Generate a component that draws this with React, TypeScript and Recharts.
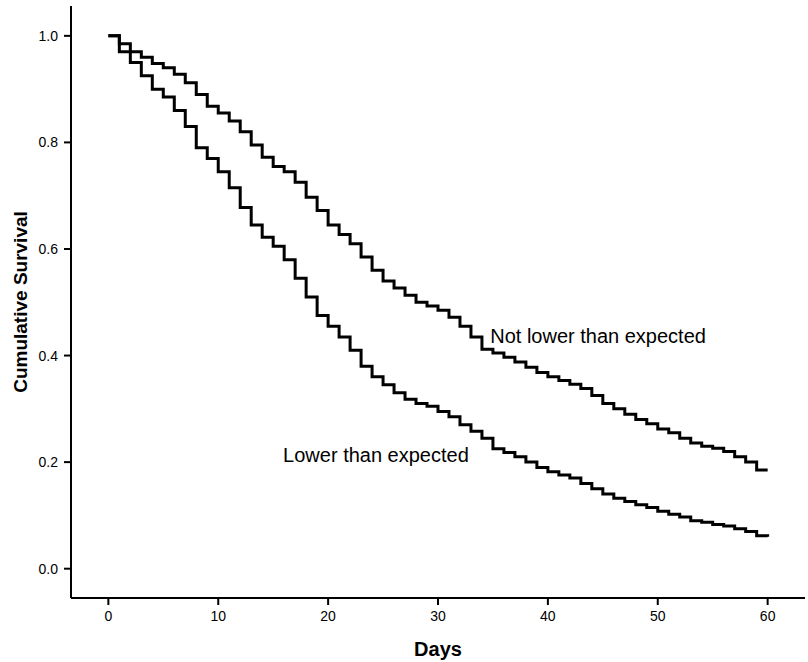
import React from "react"
import { LineChart, Line, XAxis, YAxis, ReferenceDot } from "recharts"

// days of follow-up (one step per day)
const DAYS = [
  0, 1, 2, 3, 4, 5, 6, 7, 8, 9, 10, 11, 12, 13, 14, 15, 16, 17, 18, 19, 20,
  21, 22, 23, 24, 25, 26, 27, 28, 29, 30, 31, 32, 33, 34, 35, 36, 37, 38, 39, 40,
  41, 42, 43, 44, 45, 46, 47, 48, 49, 50, 51, 52, 53, 54, 55, 56, 57, 58, 59, 60,
]

const NOT_LOWER = [
  1.0, 0.985, 0.97, 0.96, 0.948, 0.94, 0.928, 0.912, 0.89, 0.868, 0.855,
  0.84, 0.82, 0.795, 0.772, 0.755, 0.745, 0.725, 0.697, 0.672, 0.645,
  0.627, 0.61, 0.585, 0.56, 0.54, 0.527, 0.513, 0.5, 0.493, 0.485,
  0.472, 0.455, 0.435, 0.412, 0.405, 0.397, 0.388, 0.378, 0.368, 0.36,
  0.353, 0.346, 0.338, 0.325, 0.31, 0.3, 0.29, 0.28, 0.272, 0.262,
  0.255, 0.245, 0.236, 0.23, 0.226, 0.22, 0.21, 0.2, 0.185, 0.185,
]

const LOWER = [
  1.0, 0.97, 0.95, 0.925, 0.9, 0.885, 0.86, 0.83, 0.79, 0.77, 0.745,
  0.715, 0.678, 0.645, 0.622, 0.605, 0.58, 0.545, 0.51, 0.475, 0.455,
  0.435, 0.41, 0.38, 0.36, 0.345, 0.33, 0.318, 0.31, 0.305, 0.295,
  0.285, 0.27, 0.258, 0.245, 0.225, 0.218, 0.21, 0.2, 0.19, 0.182,
  0.176, 0.17, 0.16, 0.15, 0.14, 0.132, 0.126, 0.12, 0.115, 0.108,
  0.102, 0.097, 0.09, 0.087, 0.083, 0.08, 0.075, 0.07, 0.062, 0.06,
]

const X_TICKS = [0, 10, 20, 30, 40, 50, 60]
const Y_TICKS = [0, 0.2, 0.4, 0.6, 0.8, 1.0]

const FONT = "'Liberation Sans', Arial, sans-serif"

const data = DAYS.map((d, i) => ({ day: d, notLower: NOT_LOWER[i], lower: LOWER[i] }))

export default function App() {
  return (
    <div style={{ position: "absolute", left: 0, top: 0, background: "#fff" }}>
      <LineChart
        width={808}
        height={662}
        data={data}
        margin={{ top: 6, right: 3, bottom: 0, left: 0 }}
        style={{ fontFamily: FONT }}
      >
        <XAxis
          dataKey="day"
          type="number"
          domain={[-3.4, 63.4]}
          ticks={X_TICKS}
          allowDataOverflow
          height={64}
          tickSize={7}
          tickMargin={6}
          axisLine={{ stroke: "#000", strokeWidth: 2 }}
          tickLine={{ stroke: "#000", strokeWidth: 2 }}
          tick={{ fill: "#000", fontSize: 14 }}
          label={{ value: "Days", position: "insideBottom", offset: 6, fill: "#000", fontSize: 20, fontWeight: "bold" }}
        />
        <YAxis
          type="number"
          domain={[-0.055, 1.056]}
          ticks={Y_TICKS}
          allowDataOverflow
          width={71}
          tickSize={7}
          tickMargin={6}
          tickFormatter={(v: number) => v.toFixed(1)}
          axisLine={{ stroke: "#000", strokeWidth: 2 }}
          tickLine={{ stroke: "#000", strokeWidth: 2 }}
          tick={{ fill: "#000", fontSize: 14 }}
          label={{ value: "Cumulative Survival", position: "center", angle: -90, dx: -15, fill: "#000", fontSize: 19, fontWeight: "bold" }}
        />
        <Line type="stepAfter" dataKey="notLower" stroke="#000" strokeWidth={3} dot={false} isAnimationActive={false} />
        <Line type="stepAfter" dataKey="lower" stroke="#000" strokeWidth={3} dot={false} isAnimationActive={false} />
        <ReferenceDot
          x={34.3}
          y={0.437}
          r={0}
          stroke="none"
          fill="none"
          label={{ value: "Not lower than expected", position: "right", offset: 5, fill: "#000", fontSize: 20 }}
        />
        <ReferenceDot
          x={15.45}
          y={0.214}
          r={0}
          stroke="none"
          fill="none"
          label={{ value: "Lower than expected", position: "right", offset: 5, fill: "#000", fontSize: 20 }}
        />
      </LineChart>
    </div>
  )
}
